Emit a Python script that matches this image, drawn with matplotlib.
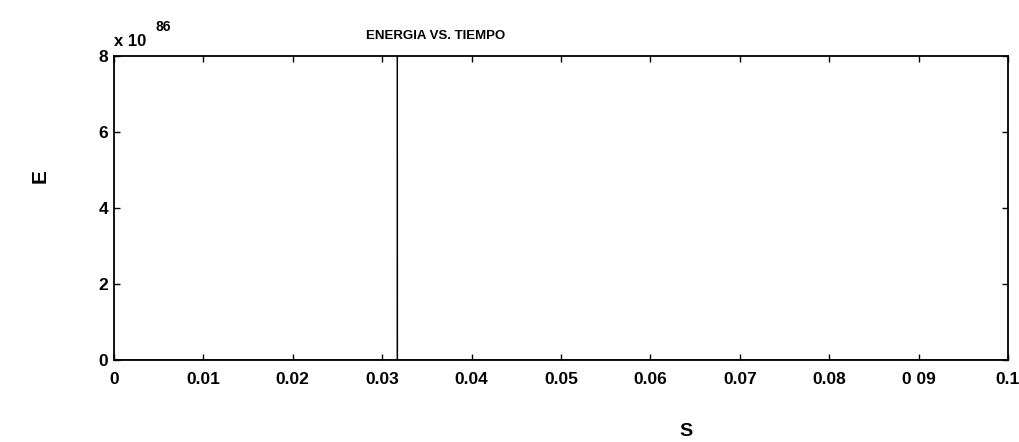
import matplotlib.pyplot as plt
import numpy as np

# Energy vs time data (a single spike near t = 0.0317 s)
tiempo = [0.0, 0.03169, 0.0317, 0.03171, 0.1]
energia = [0.0, 0.0, 8.0, 0.0, 0.0]   # in units of 1e86
xticks = [0, 0.01, 0.02, 0.03, 0.04, 0.05, 0.06, 0.07, 0.08, 0.09, 0.1]
xticklabels = ['0', '0.01', '0.02', '0.03', '0.04', '0.05', '0.06', '0.07', '0.08', '0 09', '0.1']
yticks = [0, 2, 4, 6, 8]

plt.rcParams['font.family'] = ['Liberation Sans', 'DejaVu Sans']
plt.rcParams['font.weight'] = 'bold'

fig = plt.figure(figsize=(10.19, 4.42), dpi=100)
ax = fig.add_axes([114 / 1019, 1 - 360 / 442, (1008 - 114) / 1019, (360 - 56) / 442])

ax.plot(tiempo, energia, color='black', linewidth=0.9)

ax.set_xlim(0, 0.1)
ax.set_ylim(0, 8)
ax.set_xticks(xticks)
ax.set_xticklabels(xticklabels, fontsize=12.5, fontweight='bold')
ax.set_yticks(yticks)
ax.set_yticklabels([str(v) for v in yticks], fontsize=12.5, fontweight='bold')
ax.tick_params(direction='in', top=True, right=True, length=4, width=1)
ax.tick_params(axis='x', pad=9)
ax.tick_params(axis='y', pad=4)
for s in ax.spines.values():
    s.set_linewidth(1.3)

fig.text(114 / 1019, 1 - 46 / 442, 'x 10', fontsize=12, fontweight='bold',
         ha='left', va='baseline')
fig.text(156 / 1019, 1 - 31 / 442, '86', fontsize=10, fontweight='bold',
         ha='left', va='baseline')
fig.text(436 / 1019, 1 - 36 / 442, 'ENERGIA VS. TIEMPO', fontsize=9.5, fontweight='bold',
         ha='center', va='center')
fig.text(40 / 1019, 1 - 176 / 442, 'E', fontsize=15, fontweight='bold',
         rotation=90, ha='center', va='center')
fig.text(686 / 1019, 1 - 431 / 442, 'S', fontsize=14, fontweight='bold',
         ha='center', va='center')

fig.savefig('out.png', dpi=100)
